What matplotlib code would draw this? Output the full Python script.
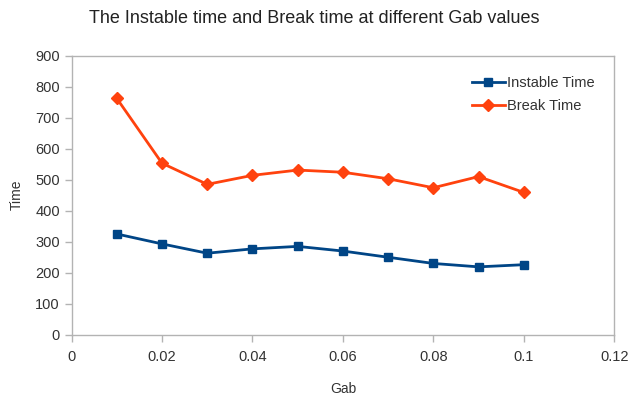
import matplotlib
matplotlib.use("Agg")
import matplotlib.pyplot as plt

gab = [0.01, 0.02, 0.03, 0.04, 0.05, 0.06, 0.07, 0.08, 0.09, 0.1]
instable_time = [325, 293, 263, 277, 285, 270, 250, 230, 219, 226]
break_time = [762, 553, 485, 514, 531, 524, 503, 474, 510, 459]
x_ticks = [0, 0.02, 0.04, 0.06, 0.08, 0.1, 0.12]
x_tick_labels = ["0", "0.02", "0.04", "0.06", "0.08", "0.1", "0.12"]
y_ticks = list(range(0, 1000, 100))

plt.rcParams['font.family'] = ['Liberation Sans', 'DejaVu Sans']

fig = plt.figure(figsize=(6.28, 4.0), dpi=100)
ax = fig.add_axes([0.114, 0.163, 0.864, 0.698])

ax.plot(gab, instable_time, color='#004586', lw=2, marker='s', ms=6,
        label='Instable Time')
ax.plot(gab, break_time, color='#ff420e', lw=2, marker='D', ms=6,
        label='Break Time')

ax.set_xlim(0, 0.12)
ax.set_ylim(0, 900)
ax.set_xticks(x_ticks)
ax.set_xticklabels(x_tick_labels)
ax.set_yticks(y_ticks)

for s in ax.spines.values():
    s.set_color('#b3b3b3')
    s.set_linewidth(1)
ax.tick_params(axis='both', colors='#b3b3b3', labelcolor='#333333',
               labelsize=10.5, length=5, direction='out', width=1)
ax.tick_params(axis='x', pad=6)

ax.set_xlabel('Gab', fontsize=10, color='#333333', labelpad=13)
ax.set_ylabel('Time', fontsize=10, color='#333333', labelpad=8)

fig.text(0.5, 0.953, 'The Instable time and Break time at different Gab values',
         ha='center', va='center', fontsize=13, color='#222222')

leg = ax.legend(loc='upper left', bbox_to_anchor=(0.728, 0.948), frameon=False,
                fontsize=10.5, handlelength=2.2, handletextpad=0.2,
                labelspacing=0.6, borderaxespad=0)
for t in leg.get_texts():
    t.set_color('#333333')

fig.savefig('out.png', dpi=100)
